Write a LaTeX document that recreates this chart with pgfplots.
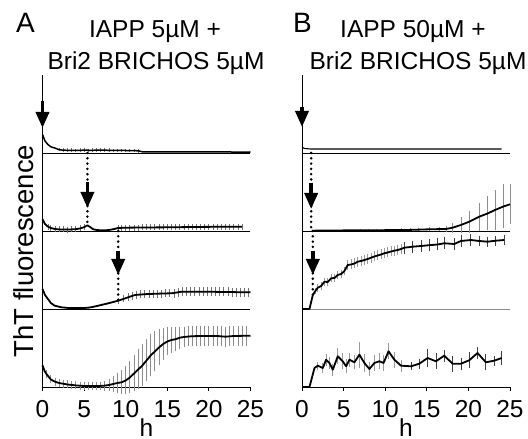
\documentclass[border=0pt]{standalone}
\usepackage{fontspec}
\setmainfont{Liberation Sans}
\usepackage{pgfplots}
\pgfplotsset{compat=1.18}
\usetikzlibrary{arrows.meta}

\newcommand{\bigf}{\fontsize{24.5}{27}\selectfont}

\tikzset{
  arr/.style={line width=3.5pt, -{Triangle[width=13pt,length=16pt]}},
  dots/.style={line width=2.8pt, line cap=round, dash pattern=on 0pt off 5.3pt},
}
\pgfplotsset{
  sub/.style={
    scale only axis, width=208pt, height=78pt,
    xmin=0, xmax=25, ymin=0, ymax=78,
    axis x line=bottom, axis y line=left,
    axis line style={-, line width=0.9pt},
    xtick=\empty, ytick=\empty,
    clip=false, anchor=south west,
  },
  bottomsub/.style={
    xtick={0,5,...,25}, tick align=outside, major tick length=4pt,
    tick style={line width=0.9pt, black},
    /pgf/number format/assume math mode=true,
    xticklabel style={font=\bigf, inner sep=0pt, yshift=-9pt},
  },
  bars/.style={draw=none, forget plot,
    error bars/.cd, y dir=both, y explicit, error mark=none,
    error bar style={draw=#1, line width=0.8pt}},
  curve/.style={black, line width=1.8pt, line join=round, mark=none},
}

\begin{document}
\begin{tikzpicture}[x=1pt,y=1pt]
\useasboundingbox (0pt,0pt) rectangle (528pt,439pt);

% ---------- panel A ----------
\begin{axis}[sub, at={(42.5pt,286pt)}]
\addplot[bars=black!55] table[x=h, y=v, y error=e] {
h v e
2.0 3.3 1.5
2.5 2.8 1.8
3.0 2.7 1.8
3.5 2.8 1.8
4.0 2.6 1.8
4.5 2.7 1.8
5.0 2.8 1.8
5.5 2.6 1.8
6.0 2.7 1.8
6.5 2.8 2
7.0 2.9 2
7.5 2.8 2.2
8.0 2.7 2
8.5 2.6 1.8
9.0 2.6 1.8
9.5 2.5 1.8
10.0 2.5 1.8
10.5 2.4 1.8
11.0 2.3 1.8
11.5 2.2 1.8
};
\addplot[curve, line width=1.5pt] table {
0 18.4
0.3 12
0.66 8.4
1.0 6.2
1.47 5
2.0 3.3
2.5 2.8
3.0 2.7
4.0 2.6
5.0 2.8
6.0 2.7
7.0 2.9
8.0 2.7
9.0 2.6
10.0 2.5
11.5 2.2
12 1.2
14 1.1
16 1.0
18 1.2
20 1.0
22 1.2
23 0.9
25 1.0
};
\draw[line width=0.9pt] (axis cs:0,77) -- (axis cs:0,18);
\draw[arr] (axis cs:0,52) -- (axis cs:0,25);
\end{axis}

\begin{axis}[sub, at={(42.5pt,208pt)}]
\addplot[bars=black!55] table[x=h, y=v, y error=e] {
h v e
0.66 4.3 3
1.0 3 3
1.5 2 3
2.0 1.6 3
2.5 1.5 3
3.0 1.4 3
3.5 1.5 3
4.0 1.8 3
4.5 2.5 3
5.0 3.8 3
9.1 3.0 2.5
9.5 3.2 3
10.0 3.3 3
10.5 3.3 3
11.0 3.4 3
11.5 3.4 3
12.0 3.5 3
12.5 3.5 3
13.0 3.5 3
13.5 3.6 3
14.0 3.6 3
14.5 3.6 3
15.0 3.7 3
15.5 3.7 3
16.0 3.8 3
16.5 3.8 3
17.0 3.9 3
17.5 3.9 3
18.0 4.0 3
18.5 4.0 3
19.0 4.0 3
19.5 4.1 3
20.0 4.1 3
20.5 4.1 3
21.0 4.2 3
21.5 4.2 3
22.0 4.2 3
22.5 4.3 3
23.0 4.3 3
23.5 4.3 3
24.0 4.3 3
};
\addplot[curve] table {
0 11.7
0.3 7
0.66 4.3
1.0 3
1.5 2
2.0 1.6
3.0 1.4
4.0 1.8
4.5 2.5
5.0 3.8
5.4 5.7
5.8 3.5
6.1 1.7
6.5 1.0
7.0 0.7
7.5 0.7
8.0 1.0
8.5 1.8
9.1 3.0
10.0 3.3
12.0 3.5
15.5 3.7
18.0 4.0
21.0 4.2
24.0 4.3
};
\draw[dots] (axis cs:5.4,78) -- (axis cs:5.4,6);
\draw[arr] (axis cs:5.4,49) -- (axis cs:5.4,23);
\end{axis}

\begin{axis}[sub, at={(42.5pt,130pt)}]
\addplot[bars=black!55] table[x=h, y=v, y error=e] {
h v e
9.1 8.3 3
9.7 10 3.5
10.3 11.7 4
10.8 13.2 4
11.3 14.1 4
11.8 14.5 4
12.3 14.8 4
12.8 15 4
13.3 15.1 4
13.8 15.3 4
14.3 15.4 4
14.8 15.5 4
15.3 15.6 4
15.8 15.9 4.5
16.3 16.7 4.5
16.8 17.3 4.5
17.3 17.3 4.5
17.8 17.3 4.5
18.3 17.3 4.5
18.8 17.3 4.5
19.3 17.3 4.5
19.8 17.3 4.5
20.3 17.2 4.5
20.8 17.1 4.5
21.3 17 4.5
21.8 17 4.5
22.3 17 4.5
22.8 16.9 4.5
23.3 16.8 4.5
23.8 16.8 4.5
24.3 16.7 4.5
24.8 16.7 4.5
};
\addplot[curve] table {
0 20
0.3 14
0.66 10
1.0 6
1.47 3.3
2.27 1.7
3.0 1.1
4.0 0.9
5.0 1.0
5.5 1.3
6.0 2
6.7 3.3
7.3 4.5
7.9 5.7
8.5 7
9.1 8.3
9.7 10
10.3 11.7
11.1 14
11.5 14.3
12.0 14.6
12.7 15
13.5 15.2
14.5 15.5
15.5 15.7
16.0 16.3
16.7 17.3
17.5 17.3
18.5 17.3
19.5 17.3
20.5 17.2
21.5 17
22.5 17
23.5 16.8
25 16.7
};
\draw[dots] (axis cs:9.1,78) -- (axis cs:9.1,9);
\draw[arr] (axis cs:9.1,58) -- (axis cs:9.1,34);
\end{axis}

\begin{axis}[sub, bottomsub, at={(42.5pt,52pt)}]
\addplot[bars=black!45] table[x=h, y=v, y error=e] {
h v e
0.5 12.7 4
1.0 7.5 4
1.5 5.3 4
2.0 4.0 4
2.5 3.2 4
3.0 2.5 4
3.5 2.0 4
4.0 1.6 4
4.5 1.3 4
5.0 1.0 4
5.5 0.9 4
6.0 0.9 4
6.5 1.0 4
7.0 1.1 4
7.5 1.4 5
8.0 2.0 6
8.5 3.0 8
9.0 4.0 10
9.5 4.7 12
10.0 6.5 14
10.5 9.5 16
11.0 13.5 18
11.5 17.5 20
12.0 21.5 21
12.5 26.5 21
13.0 31.5 21
13.5 35.5 20
14.0 39.5 18
14.5 43 16
15.0 45.5 14
15.5 47 13
16.0 47.8 12
16.5 49.3 11
17.0 50 10
17.5 50.5 10
18.0 50.8 10
18.5 51 10
19.0 51 10
19.5 51 10
20.0 51 10
20.5 51 10
21.0 51 10
21.5 50.8 10
22.0 50.3 10
22.5 50.6 10
23.0 51 10
23.5 51 10
24.0 51.2 10
24.5 51.2 10
};
\addplot[curve] table {
0 21.7
0.25 16
0.5 12.7
1.0 7.5
1.5 5.3
2.0 4.0
3.0 2.5
4.0 1.6
5.0 1.0
6.0 0.9
7.0 1.1
7.5 1.4
8.0 2.0
8.5 3.0
9.0 4.0
9.5 4.7
10.0 6.5
10.5 9.5
11.0 13.5
11.5 17.5
12.0 21.5
12.5 26.5
13.0 31.5
13.5 35.5
14.0 39.5
14.5 43
15.0 45.5
15.5 47
16.0 47.8
16.5 49.3
17.0 50
18.0 50.8
19.5 51
21.0 51
22.0 50.3
23.0 51
25.0 51.3
};
\end{axis}

% ---------- panel B ----------
\begin{axis}[sub, at={(302pt,286pt)}]
\addplot[curve, line width=1.1pt] table {
0 6
0.3 4.5
1 4
24 4
};
\draw[line width=0.9pt] (axis cs:0,77) -- (axis cs:0,5);
\draw[arr] (axis cs:0,46) -- (axis cs:0,26);
\end{axis}

\begin{axis}[sub, at={(302pt,208pt)}]
\addplot[bars=black!45] table[x=h, y=v, y error=e] {
h v e
7.0 0.7 1.2
8.0 0.8 1.2
9.0 0.8 1.2
10.0 0.9 1.2
11.0 0.9 1.2
12.0 1.0 1.5
13.0 1.1 1.5
14.0 1.4 1.5
15.3 1.7 2
16.5 1.9 2
17.3 2.0 3
18.1 3.3 5
19.1 6 8
20.1 9.3 11
21.3 14.3 14
22.3 17.5 17
23.2 21 20
24.2 24.5 22
25.0 26.7 20
};
\addplot[curve] table {
1.2 0.3
3 0.5
5 0.6
7 0.7
9 0.8
11 0.9
13 1.1
15.3 1.7
16.5 1.9
17.3 2.0
18.1 3.3
19.1 6
20.1 9.3
21.3 14.3
22.3 17.5
23.2 21
24.2 24.5
25.0 26.7
};
\draw[dots] (axis cs:1.1,78) -- (axis cs:1.1,1);
\draw[arr] (axis cs:1.1,48) -- (axis cs:1.1,22);
\end{axis}

\begin{axis}[sub, at={(302pt,130pt)}, x axis line style={draw=black!45}]
\addplot[bars=black!40] table[x=h, y=v, y error=e] {
h v e
1.6 18 3
1.9 21.3 4
2.3 23 4
2.7 27.3 4
3.1 27 4
3.5 30.7 4
3.9 31 4
4.3 34 4
4.7 35 4
5.1 38 4
5.5 44 5
5.9 44.5 5
6.3 45.5 5
6.7 47.3 5
7.1 48 5
7.5 49 5
7.9 50 5
8.3 51.3 5
8.7 52.5 5
9.1 53.5 5
9.5 54.5 5
9.9 55.7 5
10.3 56.5 5
10.7 57.5 5
11.1 58.3 5
11.5 59 5
11.9 60 5
};
\addplot[bars=black!75] table[x=h, y=v, y error=e] {
h v e
12.3 61.3 6
13.3 62.3 6
14.3 63 6
15.3 63.8 6
16.3 64.5 6
17.1 65.7 6
18.3 65 6
19.1 68 6
20.3 69 6
21.3 68 5
22.3 67.3 5
23.3 68.3 5
24.3 69 5
};
\addplot[curve] table {
0 0
0.9 0
1.3 14
1.6 18
1.9 21.3
2.3 23
2.7 27.3
3.1 27
3.5 30.7
3.9 31
4.3 34
4.7 35
5.1 38
5.5 44
5.9 44.5
6.3 45.5
6.7 47.3
7.1 48
7.5 49
7.9 50
8.3 51.3
8.7 52.5
9.1 53.5
9.5 54.5
9.9 55.7
10.3 56.5
10.7 57.5
11.1 58.3
11.5 59
11.9 60
12.3 61.3
13.3 62.3
14.3 63
15.3 63.8
16.3 64.5
17.1 65.7
18.3 65
19.1 68
20.3 69
21.3 68
22.3 67.3
23.3 68.3
24.3 69
};
\draw[dots] (axis cs:1.3,78) -- (axis cs:1.3,12);
\draw[arr] (axis cs:1.3,58) -- (axis cs:1.3,34);
\end{axis}

\begin{axis}[sub, bottomsub, at={(302pt,52pt)}]
\addplot[bars=black!40] table[x=h, y=v, y error=e] {
h v e
1.9 21.3 4
2.5 19 5
2.9 27.3 6
3.3 24 6
3.7 17.3 6
4.3 30.7 8
4.9 25.7 8
5.3 20.7 7
5.7 27.3 7
6.3 24.7 7
6.9 32.3 13
7.5 24 9
8.1 18 7
8.7 24 8
9.3 25.7 8
9.8 24 8
10.4 35.7 8
11.1 27.3 8
11.9 21.3 6
};
\addplot[bars=black!75] table[x=h, y=v, y error=e] {
h v e
13.1 20.7 4
14.1 23.3 5
15.1 29 9
16.1 25.7 8
17.1 31.3 6
18.1 23.3 8
19.1 23.3 6
20.1 26.7 8
21.1 34 6
22.1 24.7 8
23.1 26.3 5
24.0 29 7
};
\addplot[curve] table {
0 0
0.9 0
1.5 19
1.9 21.3
2.5 19
2.9 27.3
3.3 24
3.7 17.3
4.3 30.7
4.9 25.7
5.3 20.7
5.7 27.3
6.3 24.7
6.9 32.3
7.5 24
8.1 18
8.7 24
9.3 25.7
9.8 24
10.4 35.7
11.1 27.3
11.9 21.3
13.1 20.7
14.1 23.3
15.1 29
16.1 25.7
17.1 31.3
18.1 23.3
19.1 23.3
20.1 26.7
21.1 34
22.1 24.7
23.1 26.3
24.0 29
};
\end{axis}

% ---------- labels ----------
\node[font=\fontsize{28}{30}\selectfont, anchor=base west, inner sep=0pt] at (16pt,406pt) {A};
\node[font=\fontsize{28}{30}\selectfont, anchor=base west, inner sep=0pt] at (293pt,406pt) {B};
\node[font=\bigf, anchor=base, inner sep=0pt] at (155pt,401pt) {IAPP 5µM +};
\node[font=\bigf, anchor=base, inner sep=0pt] at (156pt,369pt) {Bri2 BRICHOS 5µM};
\node[font=\bigf, anchor=base, inner sep=0pt] at (413pt,401pt) {IAPP 50µM +};
\node[font=\bigf, anchor=base, inner sep=0pt] at (418pt,369pt) {Bri2 BRICHOS 5µM};
\node[font=\fontsize{27.5}{30}\selectfont, anchor=base, inner sep=0pt, rotate=90] at (33pt,188pt) {ThT fluorescence};
\node[font=\bigf, anchor=base, inner sep=0pt] at (146.5pt,2.5pt) {h};
\node[font=\bigf, anchor=base, inner sep=0pt] at (406pt,2.5pt) {h};
\end{tikzpicture}
\end{document}
